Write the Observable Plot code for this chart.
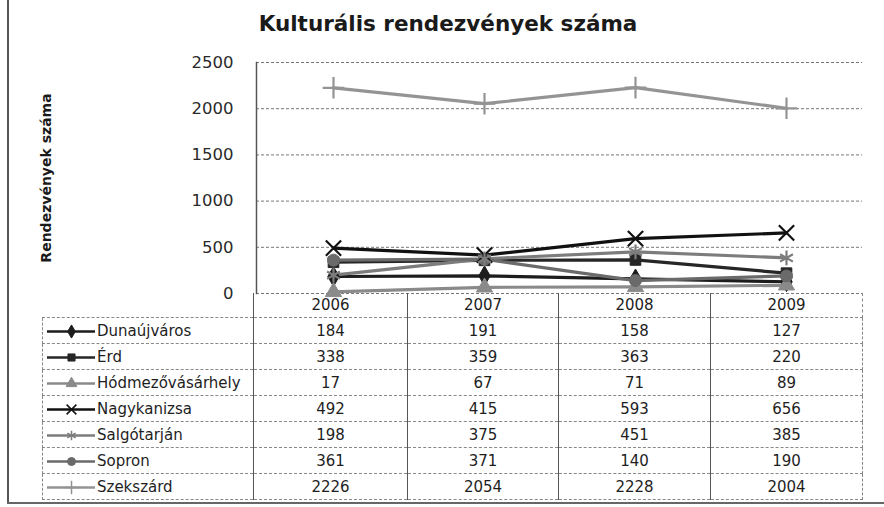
<!DOCTYPE html>
<html>
<head>
<meta charset="utf-8">
<script src="https://cdn.jsdelivr.net/npm/d3@7"></script>
<script src="https://cdn.jsdelivr.net/npm/@observablehq/plot@0.6"></script>
<style>
  html, body { margin: 0; padding: 0; background: #fff; }
  #root { position: relative; width: 884px; height: 507px; background: #fff; overflow: hidden; font-family: "DejaVu Sans", sans-serif; color: #222; }
  #title { position: absolute; left: 0; top: 11px; width: 896px; text-align: center; font-weight: bold; font-size: 21.5px; color: #1a1a1a; }
  #ylabel { position: absolute; left: 46px; top: 178px; transform: translate(-50%, -50%) rotate(-90deg); white-space: nowrap; font-weight: bold; font-size: 14px; color: #1a1a1a; }
  #chart { position: absolute; left: 0; top: 0; }
  #borderL { position: absolute; left: 7px; top: 0; width: 2px; height: 503px; background: #555; }
  #borderB { position: absolute; left: 7px; top: 502px; width: 877px; height: 2px; background: #666; }
  #tbl { position: absolute; left: 42px; top: 293px; border-collapse: collapse; table-layout: fixed; font-size: 15px; color: #1e1e1e; }
  #tbl td { padding: 0; height: 25px; text-align: center; border-top: 1px dashed #888; border-bottom: 1px dashed #888; }
  #tbl td.lab { text-align: left; border-left: 1px dashed #888; white-space: nowrap; }
  #tbl td.val { border-left: 1.5px solid #555; }
  #tbl td.last { border-right: 1px dashed #888; }
  #tbl tr.hdr td { height: 24px; border-top: none; }
  #tbl tr.hdr td.lab { border-left: none; border-bottom: 1px dashed #888; }
  .key { display: inline-block; vertical-align: middle; margin-left: 4px; margin-right: 2px; }
  .key svg { display: block; }
  .lab span { vertical-align: middle; }
</style>
</head>
<body>
<div id="root">
  <div id="borderL"></div>
  <div id="borderB"></div>
  <div id="chart"></div>
  <div id="title">Kulturális rendezvények száma</div>
  <div id="ylabel">Rendezvények száma</div>
  <table id="tbl"></table>
</div>
<script>
// ---- data ----
const years = ["2006", "2007", "2008", "2009"];
const cities = ["Dunaújváros", "Érd", "Hódmezővásárhely", "Nagykanizsa", "Salgótarján", "Sopron", "Szekszárd"];
const dunaujvaros = [184, 191, 158, 127];
const erd = [338, 359, 363, 220];
const hodmezovasarhely = [17, 67, 71, 89];
const nagykanizsa = [492, 415, 593, 656];
const salgotarjan = [198, 375, 451, 385];
const sopron = [361, 371, 140, 190];
const szekszard = [2226, 2054, 2228, 2004];
const yTicks = [0, 500, 1000, 1500, 2000, 2500];

// ---- styles ----
const seriesValues = [dunaujvaros, erd, hodmezovasarhely, nagykanizsa, salgotarjan, sopron, szekszard];
const seriesColors = ["#1c1c1c", "#262626", "#8a8a8a", "#111111", "#7c7c7c", "#6a6a6a", "#949494"];
const seriesSymbols = ["diamond", "square", "triangle", "times", "asterisk", "circle", "plus"];
const filledSymbols = new Set(["diamond", "square", "triangle", "circle"]);

const rows = cities.flatMap((c, i) => years.map((y, j) => ({city: c, year: y, value: seriesValues[i][j], sym: seriesSymbols[i]})));
const filledRows = rows.filter(d => filledSymbols.has(d.sym));
const strokedRows = rows.filter(d => !filledSymbols.has(d.sym));

const chart = Plot.plot({
  width: 884,
  height: 300,
  marginLeft: 256,
  marginRight: 22,
  marginTop: 62,
  marginBottom: 7,
  style: {fontFamily: "DejaVu Sans, sans-serif", fontSize: "16px", color: "#333", background: "transparent", overflow: "visible"},
  x: {type: "point", domain: years, padding: 0.5, axis: null},
  y: {domain: [0, 2500], axis: null},
  color: {domain: cities, range: seriesColors},
  symbol: {domain: cities, range: seriesSymbols},
  marks: [
    Plot.gridY(yTicks, {stroke: "#777", strokeOpacity: 1, strokeDasharray: "3,2", strokeWidth: 1}),
    Plot.axisY(yTicks, {tickSize: 0, tickPadding: 23, fontSize: 16.5, label: null, fill: "#2a2a2a", tickFormat: d => String(d)}),
    Plot.frame({anchor: "left", stroke: "#555", strokeWidth: 1.5}),
    Plot.line(rows, {x: "year", y: "value", z: "city", stroke: "city", strokeWidth: 3.2}),
    Plot.dot(filledRows, {x: "year", y: "value", symbol: "city", fill: "city", stroke: "city", strokeWidth: 1, r: 6}),
    Plot.dot(strokedRows, {x: "year", y: "value", symbol: "city", stroke: "city", fill: "none", strokeWidth: 2.2, r: 7})
  ]
});
document.getElementById("chart").appendChild(chart);

// ---- data table with legend keys ----
const tbl = document.getElementById("tbl");
const colgroup = document.createElement("colgroup");
[211, 154, 151, 152, 152].forEach(w => { const c = document.createElement("col"); c.style.width = w + "px"; colgroup.appendChild(c); });
tbl.appendChild(colgroup);

const hdr = document.createElement("tr");
hdr.className = "hdr";
const hl = document.createElement("td"); hl.className = "lab"; hdr.appendChild(hl);
years.forEach((y, j) => { const td = document.createElement("td"); td.className = "val" + (j === years.length - 1 ? " last" : ""); td.textContent = y; hdr.appendChild(td); });
tbl.appendChild(hdr);

cities.forEach((c, i) => {
  const tr = document.createElement("tr");
  const lab = document.createElement("td");
  lab.className = "lab";
  const key = document.createElement("span");
  key.className = "key";
  const filled = filledSymbols.has(seriesSymbols[i]);
  const mini = Plot.plot({
    width: 48, height: 16, margin: 0,
    x: {domain: [0, 1], axis: null},
    y: {domain: [0, 1], axis: null},
    color: {domain: cities, range: seriesColors},
    symbol: {domain: cities, range: seriesSymbols},
    style: {background: "transparent"},
    marks: [
      Plot.ruleY([0.5], {stroke: seriesColors[i], strokeWidth: 2.5}),
      Plot.dot([c], {frameAnchor: "middle", symbol: d => d, stroke: d => d, fill: filled ? (d => d) : "none", strokeWidth: filled ? 1 : 1.5, r: filled ? 4 : 4.5})
    ]
  });
  key.appendChild(mini);
  lab.appendChild(key);
  const sp = document.createElement("span");
  sp.textContent = c;
  lab.appendChild(sp);
  tr.appendChild(lab);
  seriesValues[i].forEach((v, j) => {
    const td = document.createElement("td");
    td.className = "val" + (j === years.length - 1 ? " last" : "");
    td.textContent = v;
    tr.appendChild(td);
  });
  tbl.appendChild(tr);
});
</script>
</body>
</html>
